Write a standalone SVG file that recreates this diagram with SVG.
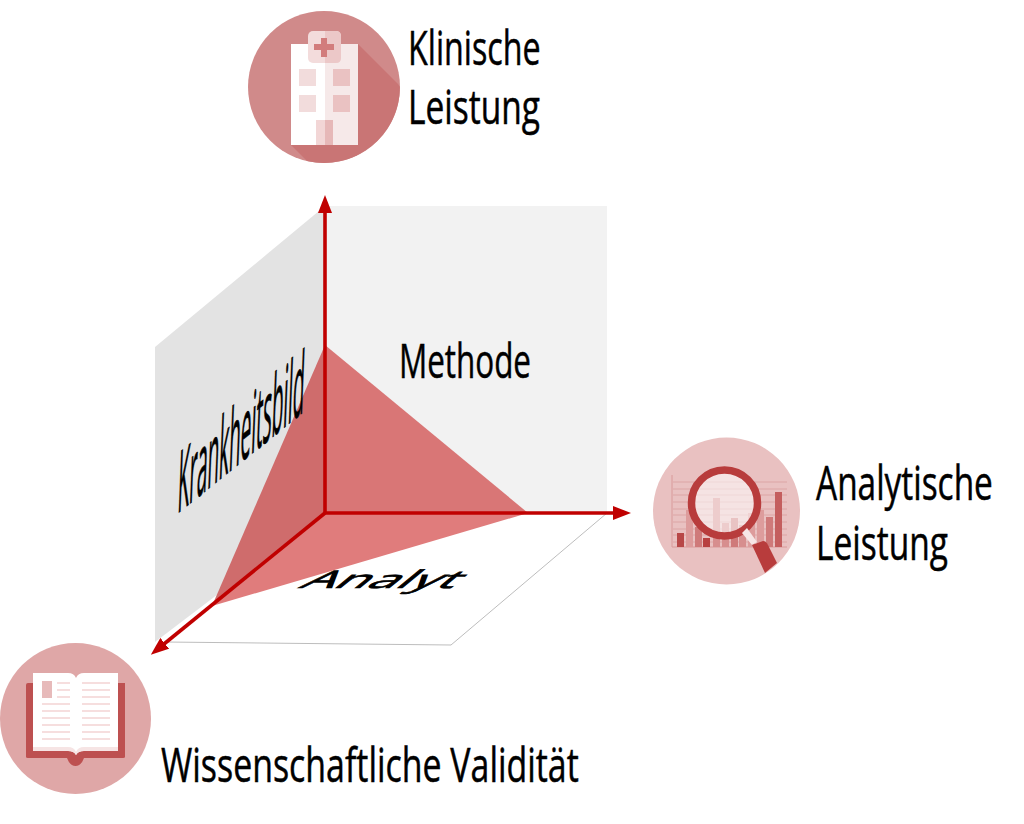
<svg xmlns="http://www.w3.org/2000/svg" width="1024" height="824" viewBox="0 0 1024 824">
<style>
.t{font-family:"Open Sans","DejaVu Sans Condensed",sans-serif;font-size:48px;fill:#000;stroke:#000;stroke-width:.5}
.ax{fill:none;stroke:#c00000;stroke-width:3.600}
</style>
<defs>
<marker id="ah" markerUnits="userSpaceOnUse" markerWidth="18" markerHeight="14" refX="1" refY="7" orient="auto"><path d="M0 0L18 7L0 14Z" fill="#c00000"/></marker>
</defs>
<g id="planes">
<rect x="325" y="206" width="282" height="307" fill="#f2f2f2"/>
<polygon points="325,206 155,347 155,642 325,513" fill="#e3e3e3"/>
<polygon points="325,513 607,513 451,645 165,642" fill="#fff"/>
<path d="M607 513L451 645L165 642" fill="none" stroke="#bdbdbd" stroke-width="1"/>
</g>
<g id="triangle">
<polygon points="325,345 528,513 325,513" fill="#d97676"/>
<polygon points="325,345 325,513 212,606" fill="#cf6c6c"/>
<polygon points="325,513 528,513 212,606" fill="#e07c7c"/>
</g>
<g id="plane-labels">
<text class="t" transform="translate(399 378) scale(.66 1)" textLength="200" lengthAdjust="spacingAndGlyphs">Methode</text>
<text class="t" transform="matrix(0.727 -0.587 -0.07 1.8 177 514)" textLength="174" lengthAdjust="spacingAndGlyphs">Krankheitsbild</text>
<text transform="matrix(1 0 -.9 .74 298 588)" style="font-family:'Open Sans',sans-serif;font-size:33px;stroke:#000;stroke-width:.9" textLength="154" lengthAdjust="spacingAndGlyphs">Analyt</text>
</g>
<g id="connectors">
<path class="ax" d="M325 513V212" marker-end="url(#ah)"/>
<path class="ax" d="M325 513H614" marker-end="url(#ah)"/>
<path class="ax" d="M325 513L164 644" marker-end="url(#ah)"/>
</g>
<g id="klinische">
<circle cx="324" cy="87" r="76" fill="#d08a8a"/>
<path d="M358 44L398 84A74 74 0 0 1 399.900 87A76 76 0 0 1 307 161L291 145Z" fill="#c97575"/>
<rect x="291" y="44" width="67" height="101" fill="#fff"/>
<rect x="325" y="44" width="33" height="101" fill="#f6e9e9"/>
<rect x="308" y="31" width="33" height="32" rx="5" fill="#f3dcdc"/>
<path d="M325 31H336Q341 31 341 36V58Q341 63 336 63H325Z" fill="#ecc8c8"/>
<path d="M321 38H327V44H334V50H327V57H321V50H314V44H321Z" fill="#d27c7c"/>
<rect x="299" y="69" width="17" height="17" fill="#f2dcdc"/><rect x="333" y="69" width="17" height="17" fill="#eac2c2"/>
<rect x="299" y="95" width="17" height="17" fill="#f2dcdc"/><rect x="333" y="95" width="17" height="17" fill="#eac2c2"/>
<rect x="316" y="120" width="17" height="25" fill="#f2d6d6"/><rect x="325" y="120" width="8" height="25" fill="#e6b8b8"/>
</g>
<g id="klinische-label">
<text class="t" transform="translate(408 65) scale(.66 1)" textLength="201" lengthAdjust="spacingAndGlyphs">Klinische</text>
<text class="t" transform="translate(408 124) scale(.66 1)" textLength="200" lengthAdjust="spacingAndGlyphs">Leistung</text>
</g>
<g id="analytische">
<circle cx="726.500" cy="511" r="73.500" fill="#e9c1c1"/>
<path d="M672 475V547H787" fill="none" stroke="#d99a9a" stroke-width="1"/>
<path d="M673 482H787M673 489H787M673 495H787M673 502H787M673 509H787M673 515H787M673 522H787M673 529H787M673 535H787M673 542H787" stroke="#dca5a5" stroke-width="1"/>
<rect x="677" y="533" width="7" height="14" fill="#b84848"/>
<rect x="686" y="510" width="7" height="37" fill="#dd9c9c"/>
<rect x="695" y="527" width="7" height="20" fill="#cf7a7a"/>
<rect x="703" y="538" width="7" height="9" fill="#b84040"/>
<rect x="713" y="498" width="7" height="49" fill="#d78e8e"/>
<rect x="722" y="523" width="7" height="24" fill="#d78e8e"/>
<rect x="731" y="518" width="7" height="29" fill="#cf7a7a"/>
<rect x="739" y="525" width="7" height="22" fill="#d78e8e"/>
<rect x="748" y="513" width="7" height="34" fill="#dd9c9c"/>
<rect x="757" y="510" width="7" height="37" fill="#dd9c9c"/>
<rect x="766" y="517" width="7" height="30" fill="#cf7a7a"/>
<rect x="775" y="492" width="7" height="55" fill="#c45e5e"/>
<circle cx="724.500" cy="503" r="33" fill="#fff" fill-opacity=".55" stroke="#b83c3c" stroke-width="7.500"/>
<path d="M742 533L747 528L757 542L752 545Z" fill="#f6e6e6"/>
<path d="M752 545L763 541Q766 541 768 545L777 563L765 573Z" fill="#b83c3c"/>
</g>
<g id="analytische-label">
<text class="t" transform="translate(816 500) scale(.66 1)" textLength="268" lengthAdjust="spacingAndGlyphs">Analytische</text>
<text class="t" transform="translate(816 560) scale(.66 1)" textLength="200" lengthAdjust="spacingAndGlyphs">Leistung</text>
</g>
<g id="validitaet">
<circle cx="75.500" cy="718.500" r="75.500" fill="#dfa7a7"/>
<path d="M28 683H125V757Q125 758 123 758H84Q81 766 75.500 766Q70 766 67 758H28Q26 758 26 757V685Q26 683 28 683Z" fill="#bd5050"/>
<path d="M33 673H68Q74 673 76 678Q78 673 84 673H118V751H84Q78 751 76 755Q74 751 68 751H33Z" fill="#fff"/>
<path d="M33 747H68Q74 747 76 752Q78 747 84 747H118V751H84Q78 751 76 755Q74 751 68 751H33Z" fill="#f6e4e4"/>
<rect x="42" y="681" width="10" height="17" fill="#e7baba"/>
<path d="M57 683H70M57 690H70M57 697H70M42 704H70M42 711H70M42 718H70M42 725H70M42 732H70M42 739H70M82 683H110M82 690H110M82 697H110M82 704H110M82 711H110M82 718H110M82 725H110M82 732H110M82 739H110" stroke="#f6dede" stroke-width="2"/>
</g>
<g id="validitaet-label">
<text class="t" transform="translate(161 782) scale(.66 1)" textLength="633" lengthAdjust="spacingAndGlyphs">Wissenschaftliche Validität</text>
</g>
</svg>
